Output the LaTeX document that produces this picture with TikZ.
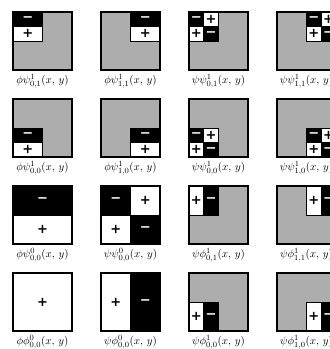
\documentclass[tikz,border=0pt]{standalone}
\usepackage{fontspec}
\newfontfamily\signfont{DejaVu Sans}
\begin{document}
\newcommand\mynegc[4]{\draw[negcell] ({#1},{#2}) rectangle ++({#3},{#4}); \node[signneg] at ({#1+#3/2},{#2+#4/2}) {−};}
\newcommand\myposc[4]{\draw[poscell] ({#1},{#2}) rectangle ++({#3},{#4}); \node[signpos] at ({#1+#3/2},{#2+#4/2}) {+};}
\newcommand\myhsplit[4]{\mynegc{#1}{#2}{#3}{(#4/2)}\myposc{#1}{(#2+#4/2)}{#3}{(#4/2)}}
\newcommand\myvsplit[4]{\myposc{#1}{#2}{(#3/2)}{#4}\mynegc{(#1+#3/2)}{#2}{(#3/2)}{#4}}
\newcommand\mychecker[4]{\mynegc{#1}{#2}{(#3/2)}{(#4/2)}\myposc{(#1+#3/2)}{#2}{(#3/2)}{(#4/2)}\myposc{#1}{(#2+#4/2)}{(#3/2)}{(#4/2)}\mynegc{(#1+#3/2)}{(#2+#4/2)}{(#3/2)}{(#4/2)}}
\newcommand\mystip[2]{\fill[stipple] (#1,#2) rectangle ++(59,58);}
\newcommand\myfrm[2]{\draw[frame] (#1,#2) rectangle ++(59,58);}
\begin{tikzpicture}[x=1pt,y=-1pt,
  negcell/.style={fill=black,draw=black,line width=0.8pt},
  poscell/.style={fill=white,draw=black,line width=0.8pt},
  signneg/.style={text=white,font=\signfont\bfseries\fontsize{13}{13}\selectfont,inner sep=0pt},
  signpos/.style={text=black,font=\signfont\bfseries\fontsize{13}{13}\selectfont,inner sep=0pt},
  stipple/.style={fill=black!32},
  frame/.style={draw=black,line width=1.3pt},
  lbl/.style={font=\fontsize{11}{13}\selectfont,inner sep=0pt}]
\useasboundingbox (0,0) rectangle (330,349);
% Row 1
\mystip{13}{12}\myhsplit{13}{12}{29.5}{29}\myfrm{13}{12}
\node[lbl] (l11) at (42.5,81) {$\phi\psi^1_{0,1}(x,\,y)$};
\mystip{101}{12}\myhsplit{130.5}{12}{29.5}{29}\myfrm{101}{12}
\node[lbl] (l12) at (130.5,81) {$\phi\psi^1_{1,1}(x,\,y)$};
\mystip{189}{12}\mychecker{189}{12}{29.5}{29}\myfrm{189}{12}
\node[lbl] (l13) at (218.5,81) {$\psi\psi^1_{0,1}(x,\,y)$};
\mystip{277}{12}\mychecker{306.5}{12}{29.5}{29}\myfrm{277}{12}
\node[lbl] (l14) at (306.5,81) {$\psi\psi^1_{1,1}(x,\,y)$};
% Row 2
\mystip{13}{99}\myhsplit{13}{128}{29.5}{29}\myfrm{13}{99}
\node[lbl] (l21) at (42.5,168) {$\phi\psi^1_{0,0}(x,\,y)$};
\mystip{101}{99}\myhsplit{130.5}{128}{29.5}{29}\myfrm{101}{99}
\node[lbl] (l22) at (130.5,168) {$\phi\psi^1_{1,0}(x,\,y)$};
\mystip{189}{99}\mychecker{189}{128}{29.5}{29}\myfrm{189}{99}
\node[lbl] (l23) at (218.5,168) {$\psi\psi^1_{0,0}(x,\,y)$};
\mystip{277}{99}\mychecker{306.5}{128}{29.5}{29}\myfrm{277}{99}
\node[lbl] (l24) at (306.5,168) {$\psi\psi^1_{1,0}(x,\,y)$};
% Row 3
\myhsplit{13}{186}{59}{58}\myfrm{13}{186}
\node[lbl] (l31) at (42.5,255) {$\phi\psi^0_{0,0}(x,\,y)$};
\mychecker{101}{186}{59}{58}\myfrm{101}{186}
\node[lbl] (l32) at (130.5,255) {$\psi\psi^0_{0,0}(x,\,y)$};
\mystip{189}{186}\myvsplit{189}{186}{29.5}{29}\myfrm{189}{186}
\node[lbl] (l33) at (218.5,255) {$\psi\phi^1_{0,1}(x,\,y)$};
\mystip{277}{186}\myvsplit{306.5}{186}{29.5}{29}\myfrm{277}{186}
\node[lbl] (l34) at (306.5,255) {$\psi\phi^1_{1,1}(x,\,y)$};
% Row 4
\myposc{13}{273}{59}{58}\myfrm{13}{273}
\node[lbl] (l41) at (42.5,342) {$\phi\phi^0_{0,0}(x,\,y)$};
\myvsplit{101}{273}{59}{58}\myfrm{101}{273}
\node[lbl] (l42) at (130.5,342) {$\psi\phi^0_{0,0}(x,\,y)$};
\mystip{189}{273}\myvsplit{189}{302}{29.5}{29}\myfrm{189}{273}
\node[lbl] (l43) at (218.5,342) {$\psi\phi^1_{0,0}(x,\,y)$};
\mystip{277}{273}\myvsplit{306.5}{302}{29.5}{29}\myfrm{277}{273}
\node[lbl] (l44) at (306.5,342) {$\psi\phi^1_{1,0}(x,\,y)$};
\end{tikzpicture}
\end{document}
